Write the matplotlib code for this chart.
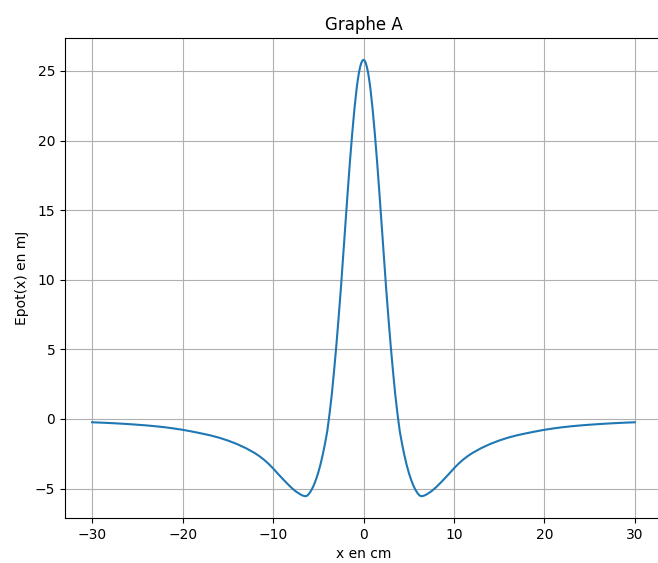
import numpy as np
import matplotlib

matplotlib.use("Agg")
import matplotlib.pyplot as plt

# values (right half, curve is symmetric about x = 0)
x_half = [0.0, 0.125, 0.25, 0.375, 0.5, 0.625, 0.75, 1.0, 1.25, 1.5, 1.75, 2.0,
          2.25, 2.5, 2.75, 3.0, 3.25, 3.5, 3.75, 4.0, 4.25, 4.5, 4.75, 5.0,
          5.25, 5.5, 5.75, 6.0, 6.2, 6.4, 6.6, 6.8, 7.0, 7.5, 8.0, 8.5, 9.0,
          9.5, 10.0, 10.5, 11.0, 11.5, 12.0, 13.0, 14.0, 15.0, 16.0, 17.0,
          18.0, 19.0, 20.0, 21.0, 22.0, 23.0, 24.0, 25.0, 26.0, 27.0, 28.0,
          29.0, 30.0]
epot_half = [25.8, 25.74, 25.57, 25.28, 24.9, 24.39, 23.8, 22.3, 20.5, 18.5, 16.3, 14.0,
             11.7, 9.4, 7.3, 5.3, 3.5, 1.8, 0.4, -0.85, -1.75, -2.55, -3.25, -3.85,
             -4.35, -4.77, -5.1, -5.36, -5.5, -5.55, -5.53, -5.48, -5.41, -5.2, -4.92, -4.6, -4.26,
             -3.91, -3.55, -3.22, -2.93, -2.68, -2.46, -2.1, -1.8, -1.55, -1.34, -1.17,
             -1.03, -0.9, -0.78, -0.68, -0.595, -0.525, -0.465, -0.415, -0.37, -0.33, -0.295,
             -0.265, -0.24]

x = np.concatenate([-np.array(x_half[:0:-1]), np.array(x_half)])
epot = np.concatenate([np.array(epot_half[:0:-1]), np.array(epot_half)])

fig = plt.figure(figsize=(6.58, 5.63), dpi=100)
# the right spine falls just outside the picture, as in the original
ax = fig.add_axes([0.0988, 0.0799, 0.9073, 0.8526])
ax.plot(x, epot)
ax.set_title("Graphe A")
ax.set_xlabel("x en cm")
ax.set_ylabel("Epot(x) en mJ")
ax.grid(True)

fig.savefig("out.png", dpi=100)
plt.close(fig)
